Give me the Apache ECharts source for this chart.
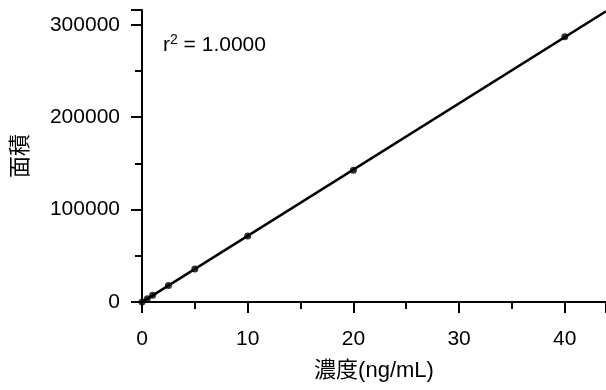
<!DOCTYPE html>
<html>
<head>
<meta charset="utf-8">
<script src="https://cdn.jsdelivr.net/npm/echarts@6/dist/echarts.min.js"></script>
<style>
  html, body { margin: 0; padding: 0; background: #fff; }
  #chart { width: 606px; height: 390px; }
</style>
</head>
<body>
<div id="chart"></div>
<script>
// calibration points
var conc = [0, 0.5, 1, 2.5, 5, 10, 20, 40];
var area = [0, 3600, 7200, 17900, 35700, 71300, 142500, 287000];
var yTicks = [0, 100000, 200000, 300000];

var FONT = '"Liberation Sans", "Noto Sans CJK JP", sans-serif';

// least squares fit
function fit(xs, ys) {
  var n = xs.length, sx = 0, sy = 0, sxx = 0, sxy = 0, syy = 0;
  for (var i = 0; i < n; i++) {
    sx += xs[i]; sy += ys[i];
    sxx += xs[i] * xs[i]; sxy += xs[i] * ys[i]; syy += ys[i] * ys[i];
  }
  var b = (n * sxy - sx * sy) / (n * sxx - sx * sx);
  var a = (sy - b * sx) / n;
  var r = (n * sxy - sx * sy) / Math.sqrt((n * sxx - sx * sx) * (n * syy - sy * sy));
  return { a: a, b: b, r2: r * r };
}

var f = fit(conc, area);
var xMax = 43.9;
var fitLine = [[0, f.a], [xMax, f.a + f.b * xMax]];

var chart = echarts.init(document.getElementById('chart'));

var option = {
  animation: false,
  grid: { left: 142, right: 0, top: 10, bottom: 88 },
  xAxis: {
    type: 'value',
    min: 0,
    max: xMax,
    interval: 10,
    name: '濃度(ng/mL)',
    nameLocation: 'middle',
    nameGap: 58,
    nameTextStyle: { fontSize: 22, color: '#000', fontFamily: FONT },
    axisLine: { onZero: false, lineStyle: { color: '#000', width: 2 } },
    axisTick: { length: 11, lineStyle: { color: '#000', width: 2 } },
    minorTick: { show: true, splitNumber: 2, length: 7, lineStyle: { color: '#000', width: 2 } },
    axisLabel: { fontSize: 21, color: '#000', fontFamily: FONT, margin: 27, showMaxLabel: false },
    splitLine: { show: false }
  },
  yAxis: {
    type: 'value',
    min: 0,
    max: 316000,
    interval: 100000,
    name: '面積',
    nameLocation: 'middle',
    nameRotate: 90,
    nameGap: 110,
    nameTextStyle: { fontSize: 22, color: '#000', fontFamily: FONT },
    axisLine: { show: true, onZero: false, lineStyle: { color: '#000', width: 2 } },
    axisTick: { show: true, length: 11, lineStyle: { color: '#000', width: 2 } },
    minorTick: { show: true, splitNumber: 2, length: 7, lineStyle: { color: '#000', width: 2 } },
    axisLabel: { fontSize: 21, color: '#000', fontFamily: FONT, margin: 22, showMaxLabel: false,
      formatter: function (v) { return yTicks.indexOf(v) >= 0 ? String(v) : ''; } },
    splitLine: { show: false }
  },
  graphic: [{
    type: 'text',
    left: 163,
    top: 33,
    style: {
      rich: {
        b: { fontSize: 21, fontFamily: FONT, fill: '#000' },
        s: { fontSize: 14, fontFamily: FONT, fill: '#000', padding: [0, 0, 11, 0] }
      },
      text: '{b|r}{s|2}{b| = ' + f.r2.toFixed(4) + '}'
    }
  }],
  series: [
    {
      type: 'line',
      data: fitLine,
      symbol: 'none',
      lineStyle: { color: '#000', width: 2.5 },
      z: 2
    },
    {
      type: 'scatter',
      data: conc.map(function (c, i) { return [c, area[i]]; }),
      symbolSize: 7,
      itemStyle: { color: '#000' },
      z: 3
    }
  ]
};

chart.setOption(option);
</script>
</body>
</html>
